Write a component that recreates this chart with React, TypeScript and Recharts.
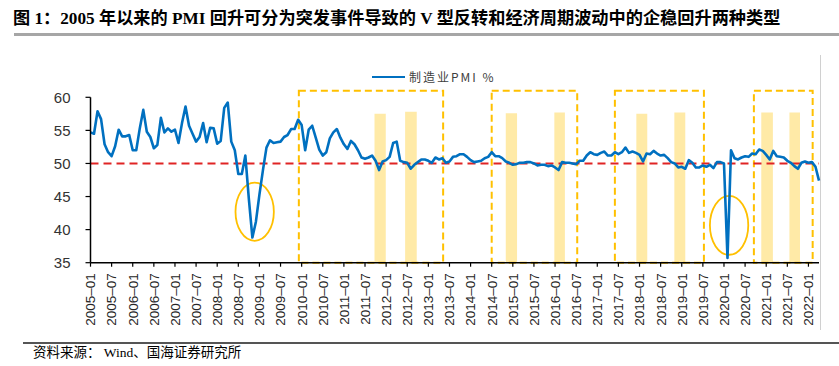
import React from 'react';
import {
  LineChart,
  Line,
  XAxis,
  YAxis,
  ReferenceLine,
  ReferenceArea,
} from 'recharts';

// China official manufacturing PMI, monthly, 2005-01 .. 2022-04
const PMI_2005 = [54.7, 54.5, 57.9, 56.7, 52.9, 51.7, 51.1, 52.6, 55.1, 54.1, 54.1, 54.3];
const PMI_2006 = [52.0, 52.0, 55.3, 58.1, 54.8, 54.0, 52.3, 52.8, 56.9, 54.7, 55.3, 54.8];
const PMI_2007 = [55.1, 53.1, 56.1, 58.6, 55.7, 54.5, 53.3, 54.0, 56.1, 53.2, 55.4, 55.3];
const PMI_2008 = [53.0, 53.4, 58.4, 59.2, 53.3, 52.0, 48.4, 48.4, 51.2, 44.6, 38.8, 41.2];
const PMI_2009 = [45.3, 49.0, 52.4, 53.5, 53.1, 53.2, 53.3, 54.0, 54.3, 55.2, 55.2, 56.6];
const PMI_2010 = [55.8, 52.0, 55.1, 55.7, 53.9, 52.1, 51.2, 51.7, 53.8, 54.7, 55.2, 53.9];
const PMI_2011 = [52.9, 52.2, 53.4, 52.9, 52.0, 50.9, 50.7, 50.9, 51.2, 50.4, 49.0, 50.3];
const PMI_2012 = [50.5, 51.0, 53.1, 53.3, 50.4, 50.2, 50.1, 49.2, 49.8, 50.2, 50.6, 50.6];
const PMI_2013 = [50.4, 50.1, 50.9, 50.6, 50.8, 50.1, 50.3, 51.0, 51.1, 51.4, 51.4, 51.0];
const PMI_2014 = [50.5, 50.2, 50.3, 50.4, 50.8, 51.0, 51.7, 51.1, 51.1, 50.8, 50.3, 50.1];
const PMI_2015 = [49.8, 49.9, 50.1, 50.1, 50.2, 50.2, 50.0, 49.7, 49.8, 49.8, 49.6, 49.7];
const PMI_2016 = [49.4, 49.0, 50.2, 50.1, 50.1, 50.0, 49.9, 50.4, 50.4, 51.2, 51.7, 51.4];
const PMI_2017 = [51.3, 51.6, 51.8, 51.2, 51.2, 51.7, 51.4, 51.7, 52.4, 51.6, 51.8, 51.6];
const PMI_2018 = [51.3, 50.3, 51.5, 51.4, 51.9, 51.5, 51.2, 51.3, 50.8, 50.2, 50.0, 49.4];
const PMI_2019 = [49.5, 49.2, 50.5, 50.1, 49.4, 49.4, 49.7, 49.5, 49.8, 49.3, 50.2, 50.2];
const PMI_2020 = [50.0, 35.7, 52.0, 50.8, 50.6, 50.9, 51.1, 51.0, 51.5, 51.4, 52.1, 51.9];
const PMI_2021 = [51.3, 50.6, 51.9, 51.1, 51.0, 50.9, 50.4, 50.1, 49.6, 49.2, 50.1, 50.3];
const PMI_2022 = [50.1, 50.2, 49.5, 47.4];

const PMI = [
  ...PMI_2005, ...PMI_2006, ...PMI_2007, ...PMI_2008, ...PMI_2009, ...PMI_2010,
  ...PMI_2011, ...PMI_2012, ...PMI_2013, ...PMI_2014, ...PMI_2015, ...PMI_2016,
  ...PMI_2017, ...PMI_2018, ...PMI_2019, ...PMI_2020, ...PMI_2021, ...PMI_2022,
];

const MONTHS = PMI.map((_, i) => {
  const y = 2005 + Math.floor(i / 12);
  const m = (i % 12) + 1;
  return `${y}-${m < 10 ? '0' + m : m}`;
});

const Y_TICKS = [35, 40, 45, 50, 55, 60];
const X_TICKS = MONTHS.map((_, i) => i).filter((i) => i % 6 === 0);

// annotations, in month index (0 = 2005-01) and PMI units
const BOXES = [
  [59.2, 100.2],
  [114.0, 138.3],
  [149.0, 174.3],
  [188.5, 205.2],
];
const BOX_TOP = 61;
const BARS = [
  [80.7, 83.9, 57.5],
  [89.4, 92.7, 57.8],
  [118.0, 121.2, 57.6],
  [131.8, 134.8, 57.7],
  [155.1, 158.2, 57.5],
  [165.9, 169.0, 57.7],
  [190.6, 193.9, 57.7],
  [198.6, 201.6, 57.7],
];
const ELLIPSES = [
  [41.2, 52.1, 38.3, 47.1],
  [176.0, 186.9, 36.2, 45.1],
];

const data = MONTHS.map((month, i) => ({ idx: i, month, pmi: PMI[i] }));

const XTick = (props: any) => {
  const { x, y, payload } = props;
  const label = MONTHS[payload.value] || '';
  return (
    <g transform={`translate(${x},${y + 6.5})`}>
      <text
        transform="rotate(-90)"
        textAnchor="end"
        dy="0.36em"
        fill="#262626"
        fontSize={13.5}
        fontFamily='"Liberation Sans", Arial, sans-serif'
      >
        {label.replace('-', '–')}
      </text>
    </g>
  );
};

const EllipseShape = (props: any) => {
  const { x, y, width, height } = props;
  return (
    <ellipse
      cx={x + width / 2}
      cy={y + height / 2}
      rx={width / 2}
      ry={height / 2}
      fill="none"
      stroke="#FFC000"
      strokeWidth={1.8}
    />
  );
};

export default function App() {
  return (
    <div style={{ position: 'absolute', left: 0, top: 0, width: 839, height: 366, background: '#fff' }}>
      <div
        style={{
          position: 'absolute',
          left: 13,
          top: 4,
          fontFamily: '"Liberation Serif", "Noto Sans CJK SC", serif',
          fontWeight: 'bold',
          fontSize: 17.2,
          color: '#000',
          whiteSpace: 'nowrap',
        }}
      >
        图 1：2005 年以来的 PMI 回升可分为突发事件导致的 V 型反转和经济周期波动中的企稳回升两种类型
      </div>
      <div style={{ position: 'absolute', left: 14, top: 33, width: 825, height: 3, background: '#a6a6a6' }} />

      <div style={{ position: 'absolute', left: 820, top: 55, width: 1, height: 275, background: '#d0d0d0' }} />

      <div style={{ position: 'absolute', left: 0, top: 0 }}>
        <LineChart width={839} height={366} data={data} margin={{ top: 97.3, right: 20, bottom: 0, left: 0.5 }}>
          <XAxis
            dataKey="idx"
            type="number"
            domain={[0, 207]}
            ticks={X_TICKS}
            interval={0}
            height={103.3}
            tickSize={4}
            tickMargin={0}
            tick={<XTick />}
            axisLine={{ stroke: '#000', strokeWidth: 1.5 }}
            tickLine={{ stroke: '#000', strokeWidth: 1.2 }}
          />
          <YAxis
            domain={[35, 60]}
            ticks={Y_TICKS}
            interval={0}
            width={90}
            tickSize={5}
            tickMargin={15}
            tick={{ fill: '#333', fontSize: 15, fontFamily: '"Liberation Sans", Arial, sans-serif' }}
            axisLine={{ stroke: '#000', strokeWidth: 1.5 }}
            tickLine={{ stroke: '#000', strokeWidth: 1.2 }}
          />
          <ReferenceLine y={50} stroke="#E02424" strokeWidth={2} strokeDasharray="8 5" />
          <Line
            type="linear"
            dataKey="pmi"
            stroke="#0070C0"
            strokeWidth={2.6}
            dot={false}
            strokeLinejoin="round"
            isAnimationActive={false}
          />
          {BARS.map(([x1, x2, top], i) => (
            <ReferenceArea
              key={`bar-${i}`}
              x1={x1}
              x2={x2}
              y1={35}
              y2={top}
              ifOverflow="visible"
              fill="#FFD54F"
              fillOpacity={0.5}
              stroke="none"
            />
          ))}
          {BOXES.map(([x1, x2], i) => (
            <ReferenceArea
              key={`box-${i}`}
              x1={x1}
              x2={x2}
              y1={35}
              y2={BOX_TOP}
              ifOverflow="visible"
              fill="none"
              stroke="#FFC000"
              strokeWidth={2}
              strokeDasharray="7 4"
            />
          ))}
          {ELLIPSES.map(([x1, x2, y1, y2], i) => (
            <ReferenceArea
              key={`ell-${i}`}
              x1={x1}
              x2={x2}
              y1={y1}
              y2={y2}
              ifOverflow="visible"
              shape={<EllipseShape />}
            />
          ))}
        </LineChart>
      </div>

      <div style={{ position: 'absolute', left: 372, top: 75.5, width: 33, height: 2.6, background: '#0070C0' }} />
      <div
        style={{
          position: 'absolute',
          left: 409,
          top: 69,
          fontSize: 12,
          letterSpacing: 2,
          color: '#404040',
          fontFamily: '"Noto Sans CJK SC", "Liberation Sans", sans-serif',
          whiteSpace: 'nowrap',
          lineHeight: '16px',
        }}
      >
        制造业PMI %
      </div>

      <div style={{ position: 'absolute', left: 23, top: 342, width: 816, height: 1.5, background: '#555' }} />
      <div
        style={{
          position: 'absolute',
          left: 33,
          top: 344,
          fontSize: 13.5,
          color: '#000',
          fontFamily: '"Liberation Serif", "Noto Sans CJK SC", serif',
          whiteSpace: 'nowrap',
          lineHeight: '17px',
        }}
      >
        资料来源： Wind、国海证券研究所
      </div>
    </div>
  );
}
